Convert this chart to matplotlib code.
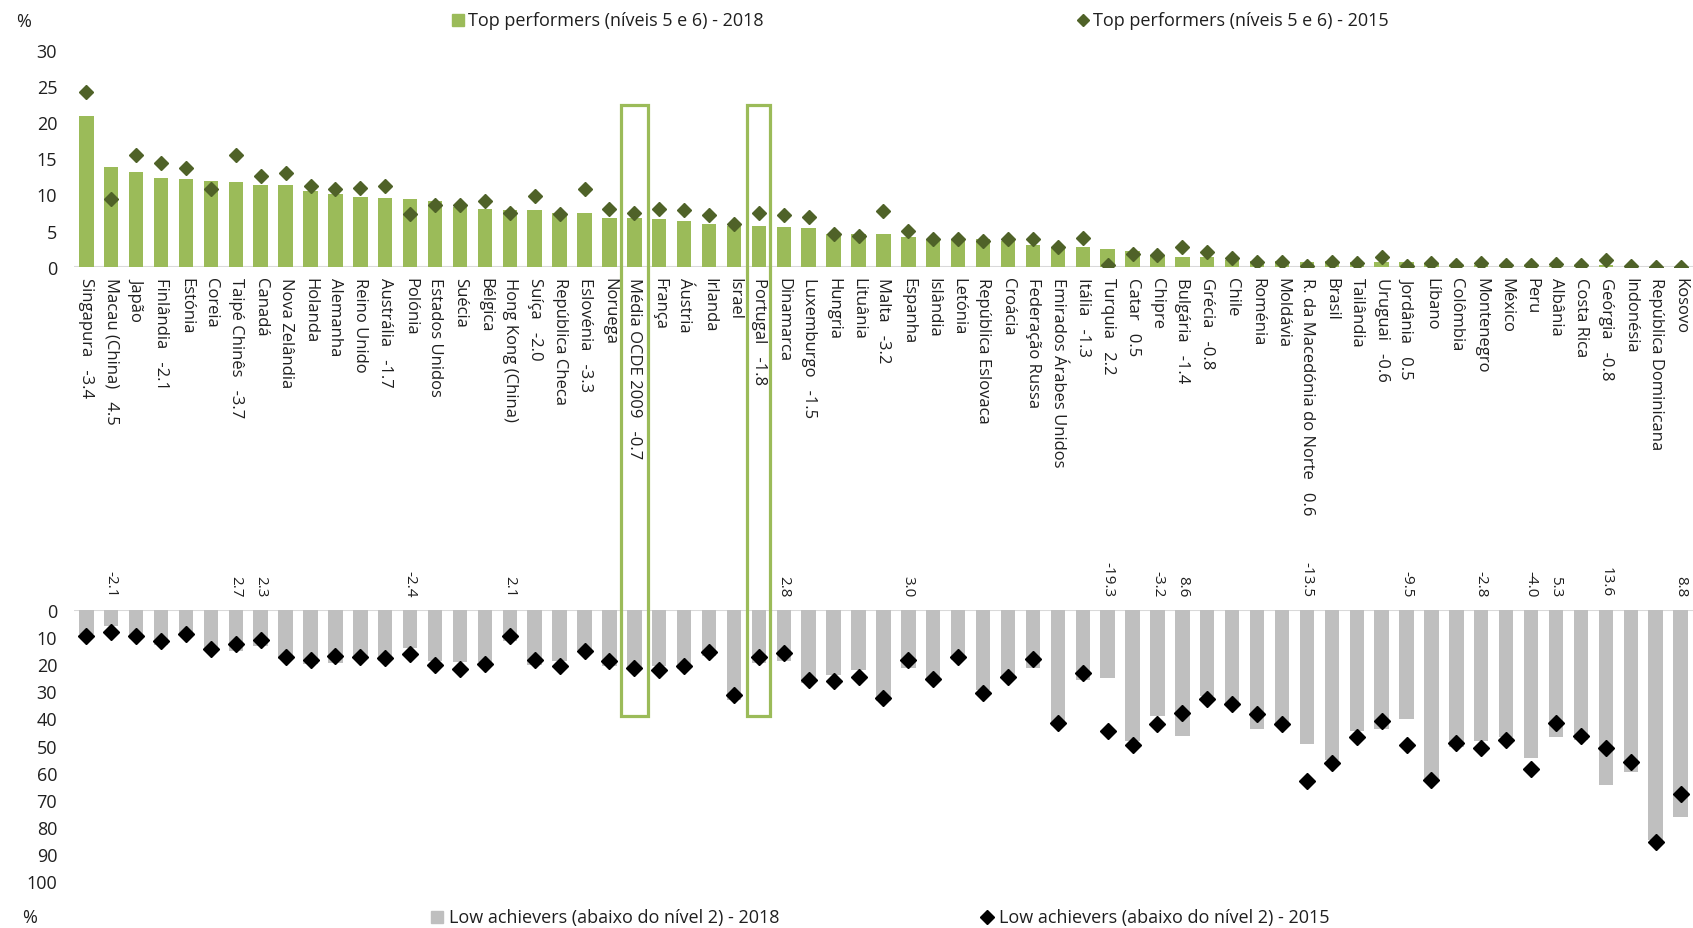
import matplotlib
matplotlib.use("Agg")
import matplotlib.pyplot as plt
from matplotlib.patches import Rectangle
from matplotlib.lines import Line2D

plt.rcParams['font.family'] = ['Open Sans', 'DejaVu Sans']

countries = ["Singapura", "Macau (China)", "Japão", "Finlândia", "Estónia", "Coreia",
             "Taipé Chinês", "Canadá", "Nova Zelândia", "Holanda", "Alemanha", "Reino Unido",
             "Austrália", "Polónia", "Estados Unidos", "Suécia", "Bélgica", "Hong Kong (China)",
             "Suíça", "República Checa", "Eslovénia", "Noruega", "Média OCDE 2009", "França",
             "Áustria", "Irlanda", "Israel", "Portugal", "Dinamarca", "Luxemburgo", "Hungria",
             "Lituânia", "Malta", "Espanha", "Islândia", "Letónia", "República Eslovaca",
             "Croácia", "Federação Russa", "Emirados Árabes Unidos", "Itália", "Turquia", "Catar",
             "Chipre", "Bulgária", "Grécia", "Chile", "Roménia", "Moldávia",
             "R. da Macedónia do Norte", "Brasil", "Tailândia", "Uruguai", "Jordânia", "Líbano",
             "Colômbia", "Montenegro", "México", "Peru", "Albânia", "Costa Rica", "Geórgia",
             "Indonésia", "República Dominicana", "Kosovo"]

top_2018 = [20.8, 13.8, 13.1, 12.3, 12.1, 11.8, 11.7, 11.3, 11.3, 10.5, 10.0, 9.6, 9.5, 9.3,
            9.1, 8.2, 8.0, 7.8, 7.8, 7.5, 7.4, 6.8, 6.8, 6.6, 6.3, 5.9, 5.7, 5.6, 5.5, 5.4,
            4.6, 4.5, 4.5, 4.1, 3.8, 3.8, 3.8, 3.6, 3.0, 2.8, 2.7, 2.5, 2.2, 1.6, 1.4, 1.3,
            1.0, 0.8, 0.8, 0.7, 0.8, 0.6, 0.7, 0.6, 0.4, 0.3, 0.3, 0.1, 0.1, 0.1, 0.1, 0.2,
            0.1, 0.0, 0.0]
top_2015 = [24.2, 9.3, 15.4, 14.4, 13.6, 10.7, 15.4, 12.5, 12.9, 11.1, 10.7, 10.9, 11.2, 7.3,
            8.5, 8.6, 9.1, 7.5, 9.8, 7.3, 10.7, 8.0, 7.5, 8.0, 7.8, 7.1, 5.9, 7.4, 7.1, 6.9,
            4.6, 4.3, 7.7, 5.0, 3.8, 3.9, 3.6, 3.9, 3.8, 2.8, 4.0, 0.3, 1.7, 1.6, 2.8, 2.1,
            1.25, 0.7, 0.7, 0.1, 0.7, 0.5, 1.3, 0.1, 0.5, 0.3, 0.5, 0.2, 0.2, 0.4, 0.2, 1.0,
            0.1, 0.0, 0.0]
top_change = ["-3.4", "4.5", "", "-2.1", "", "", "-3.7", "", "", "", "", "", "-1.7", "", "",
              "", "", "", "-2.0", "", "-3.3", "", "-0.7", "", "", "", "", "-1.8", "", "-1.5",
              "", "", "-3.2", "", "", "", "", "", "", "", "-1.3", "2.2", "0.5", "", "-1.4",
              "-0.8", "", "", "", "0.6", "", "", "-0.6", "0.5", "", "", "", "", "", "", "",
              "-0.8", "", "", ""]

low_2018 = [9.0, 6.0, 10.8, 12.9, 8.8, 14.2, 15.1, 13.4, 18.0, 20.0, 19.6, 17.4, 18.9, 13.9,
            18.6, 19.0, 19.0, 11.5, 20.2, 18.8, 14.6, 20.8, 22.0, 20.5, 21.9, 17.0, 33.1,
            19.6, 18.7, 26.8, 24.1, 22.2, 33.5, 21.3, 25.0, 18.5, 29.3, 25.4, 21.2, 42.8,
            25.9, 25.2, 48.4, 38.9, 46.5, 31.7, 35.3, 43.9, 42.6, 49.5, 55.4, 44.5, 43.9,
            40.3, 62.4, 50.4, 48.2, 46.8, 54.5, 47.0, 47.8, 64.4, 59.6, 84.9, 76.5]
low_2015 = [9.6, 8.1, 9.6, 11.5, 8.8, 14.4, 12.4, 11.1, 17.4, 18.5, 17.0, 17.4, 17.6, 16.3,
            20.3, 21.6, 19.8, 9.4, 18.5, 20.7, 15.0, 18.7, 21.2, 22.1, 20.8, 15.3, 31.4,
            17.4, 15.9, 25.9, 26.0, 24.7, 32.5, 18.3, 25.3, 17.2, 30.7, 24.6, 18.2, 41.8,
            23.2, 44.5, 49.8, 42.1, 37.9, 32.7, 34.8, 38.5, 42.2, 63.0, 56.6, 46.7, 40.8,
            49.8, 62.6, 49.0, 51.0, 47.8, 58.5, 41.7, 46.4, 50.8, 56.0, 85.7, 67.7]
low_change = ["", "-2.1", "", "", "", "", "2.7", "2.3", "", "", "", "", "", "-2.4", "", "",
              "", "2.1", "", "", "", "", "", "", "", "", "", "", "2.8", "", "", "", "", "3.0",
              "", "", "", "", "", "", "", "-19.3", "", "-3.2", "8.6", "", "", "", "",
              "-13.5", "", "", "", "-9.5", "", "", "-2.8", "", "-4.0", "5.3", "", "13.6", "",
              "", "8.8"]

highlighted = ["Média OCDE 2009", "Portugal"]
highlight_halfwidth = [0.53, 0.46]

legend_labels = ["Top performers (níveis 5 e 6) - 2018", "Top performers (níveis 5 e 6) - 2015",
                 "Low achievers (abaixo do nível 2) - 2018", "Low achievers (abaixo do nível 2) - 2015"]

GREEN = '#9BBB59'
DKGREEN = '#4F6228'
GRAY = '#BFBFBF'
TXT = '#1f1f1f'
FS_LAB = 12
FS_ANN = 11
FS_BIG = 13

W, H = 1693, 929
fig = plt.figure(figsize=(W / 100, H / 100), dpi=100)
left = 73.9 / W
ax1 = fig.add_axes([left, 1 - 267.8 / H, 1 - left, (267.8 - 50.7) / H])
ax2 = fig.add_axes([left, 1 - 882.1 / H, 1 - left, (882.1 - 611.1) / H])

x = list(range(len(countries)))

# Top chart
ax1.bar(x, top_2018, width=0.58, color=GREEN, zorder=2)
ax1.plot(x, top_2015, linestyle='none', marker='D', markersize=7, color=DKGREEN, zorder=3)
ax1.axhline(0, color='#D9D9D9', lw=1.5, zorder=1)
ax1.set_xlim(-0.5, len(countries) - 0.5)
ax1.set_ylim(0, 30)
ax1.set_yticks(range(0, 31, 5))
labels = [c + ("   " + d if d else "") for c, d in zip(countries, top_change)]
ax1.set_xticks(x)
ax1.set_xticklabels(labels, rotation=270, ha='center', va='top', fontsize=FS_LAB, color=TXT)
ax1.tick_params(axis='x', length=0, pad=7)
ax1.tick_params(axis='y', length=0, pad=12, labelsize=FS_BIG, labelcolor=TXT)

# Bottom chart
ax2.bar(x, low_2018, width=0.58, color=GRAY, zorder=2)
ax2.plot(x, low_2015, linestyle='none', marker='D', markersize=8, color='black', zorder=3)
ax2.axhline(0, color='#D9D9D9', lw=1.5, zorder=1)
ax2.set_xlim(-0.5, len(countries) - 0.5)
ax2.set_ylim(100, 0)
ax2.set_yticks(range(0, 101, 10))
ax2.set_xticks([])
ax2.tick_params(axis='y', length=0, pad=12, labelsize=FS_BIG, labelcolor=TXT)
for i, d in enumerate(low_change):
    if d:
        ax2.annotate(d, xy=(i, 1), xycoords=('data', 'axes fraction'), xytext=(0, 10),
                     textcoords='offset points', rotation=270, ha='center', va='bottom',
                     fontsize=FS_ANN, color=TXT, annotation_clip=False)

for ax in (ax1, ax2):
    for s in ax.spines.values():
        s.set_visible(False)
    ax.set_facecolor('none')

# Highlight boxes
inv = fig.transFigure.inverted()
for name, hw in zip(highlighted, highlight_halfwidth):
    i = countries.index(name)
    fx0 = inv.transform(ax1.transData.transform((i - hw, 0)))[0]
    fx1 = inv.transform(ax1.transData.transform((i + hw, 0)))[0]
    fy0 = 1 - 717 / H
    fy1 = 1 - 105.5 / H
    fig.add_artist(Rectangle((fx0, fy0), fx1 - fx0, fy1 - fy0, transform=fig.transFigure,
                             fill=False, ec=GREEN, lw=2.3, zorder=5))

# Legends
ytop = 1 - 20.5 / H
ybot = 1 - 918 / H
fig.add_artist(Line2D([458 / W], [ytop], marker='s', markersize=9, color=GREEN,
                      linestyle='none', transform=fig.transFigure))
fig.text(467.5 / W, ytop, legend_labels[0], fontsize=FS_BIG, color=TXT, va='center')
fig.add_artist(Line2D([1083 / W], [ytop], marker='D', markersize=6, color=DKGREEN,
                      linestyle='none', transform=fig.transFigure))
fig.text(1092.6 / W, ytop, legend_labels[1], fontsize=FS_BIG, color=TXT, va='center')
fig.add_artist(Line2D([437 / W], [ybot], marker='s', markersize=9, color=GRAY,
                      linestyle='none', transform=fig.transFigure))
fig.text(449 / W, ybot, legend_labels[2], fontsize=FS_BIG, color=TXT, va='center')
fig.add_artist(Line2D([987 / W], [ybot], marker='D', markersize=7, color='black',
                      linestyle='none', transform=fig.transFigure))
fig.text(999 / W, ybot, legend_labels[3], fontsize=FS_BIG, color=TXT, va='center')

fig.text(23.8 / W, 1 - 21.6 / H, "%", fontsize=FS_BIG, color=TXT, ha='center', va='center')
fig.text(30 / W, 1 - 918 / H, "%", fontsize=FS_BIG, color=TXT, ha='center', va='center')

fig.savefig("out.png", dpi=100)
